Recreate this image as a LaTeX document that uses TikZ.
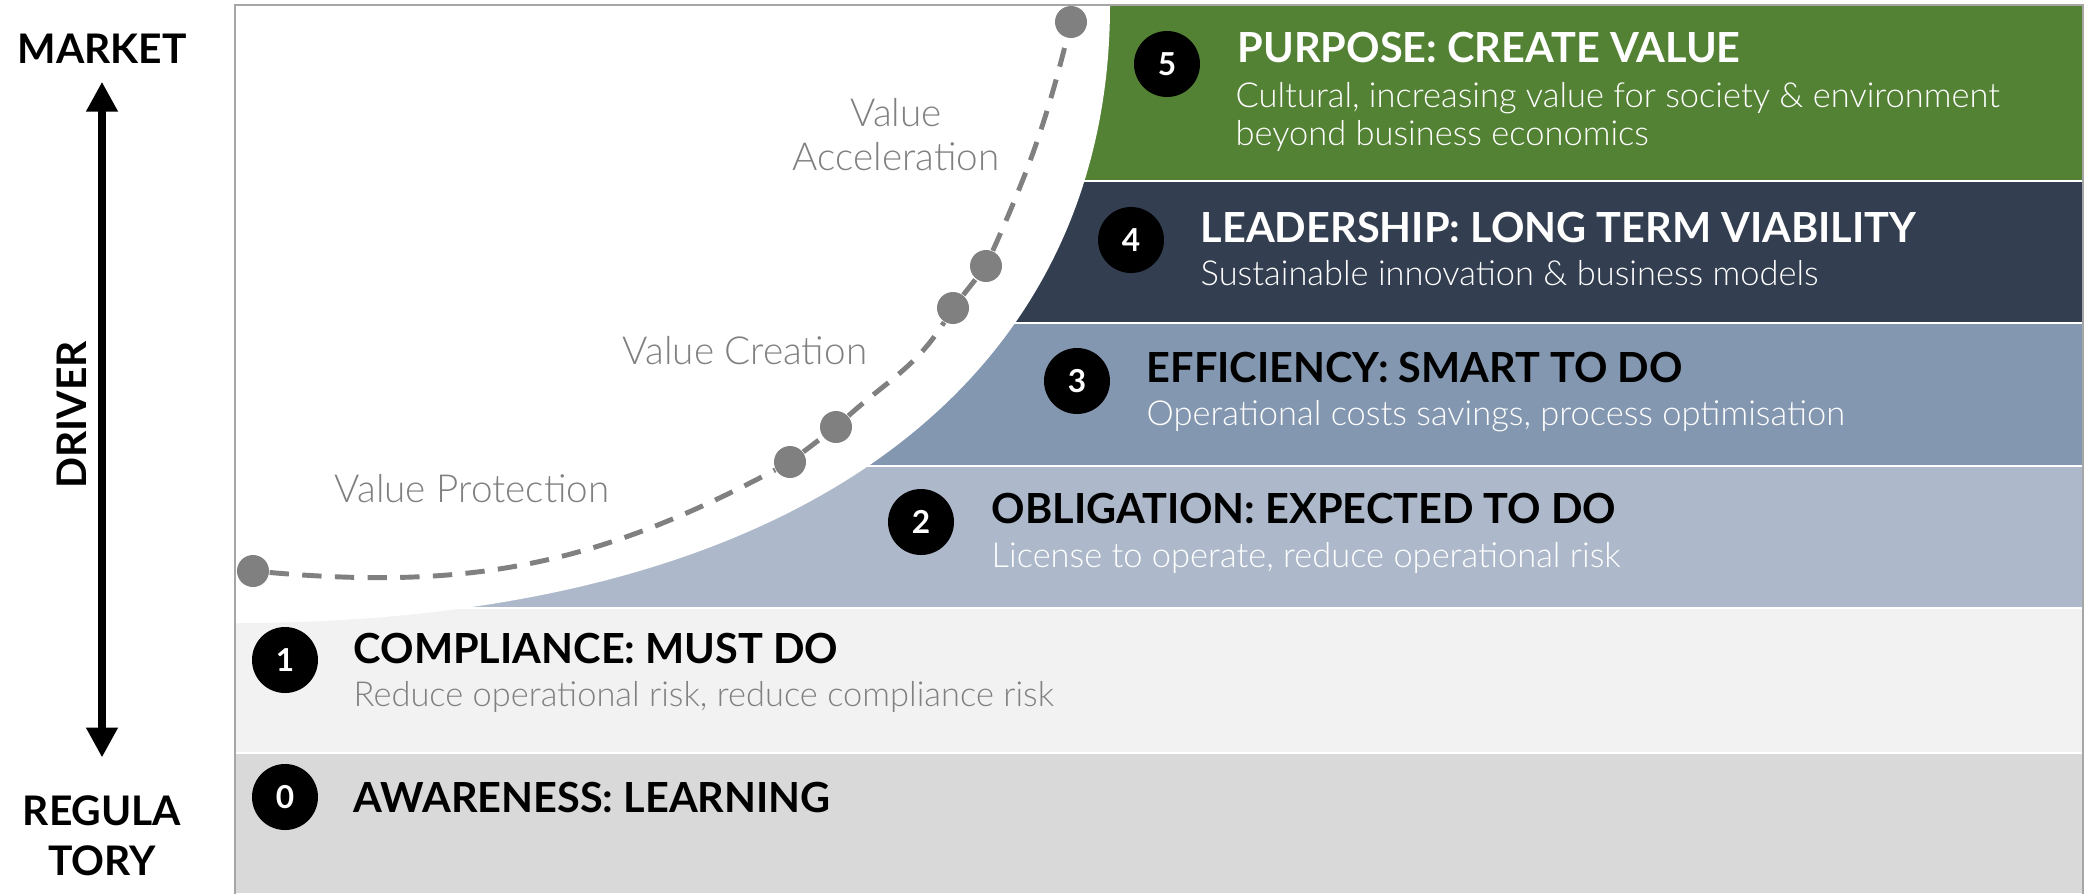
\documentclass[tikz,border=0pt]{standalone}
\usepackage{fontspec}
\setmainfont{Lato}
\newfontfamily\lightfont{Lato Light}
\usetikzlibrary{arrows.meta}

\definecolor{purpgreen}{HTML}{548235}
\definecolor{leadnavy}{HTML}{333F50}
\definecolor{efficblue}{HTML}{8497B0}
\definecolor{obligblue}{HTML}{ADB9CA}
\definecolor{compgray}{HTML}{F2F2F2}
\definecolor{awaregray}{HTML}{D9D9D9}
\definecolor{trailgray}{HTML}{808080}
\definecolor{framegray}{HTML}{A6A6A6}

\tikzset{
  band/.style={draw=white, line width=0.5pt},
  badge/.style={circle, fill=black, text=white, inner sep=0pt, minimum size=0.66cm,
    font=\fontsize{9}{9}\selectfont\bfseries},
  headline/.style={anchor=base west, inner sep=0pt, font=\fontsize{11.8}{11.8}\selectfont\bfseries},
  subline/.style={anchor=base west, inner sep=0pt, font=\lightfont\fontsize{9.8}{11}\selectfont},
  phase/.style={inner sep=0pt, text=trailgray, align=center,
    font=\lightfont\fontsize{11}{12.5}\selectfont},
  stop/.style={circle, fill=trailgray, inner sep=0pt, minimum size=0.32cm},
  trail/.style={draw=trailgray, line width=1.4pt, dash pattern=on 5.5pt off 3.8pt},
  axislabel/.style={inner sep=0pt, font=\fontsize{11.6}{11.6}\selectfont\bfseries},
  axis/.style={line width=0.08cm,
    {Triangle[width=0.3cm,length=0.3cm]}-{Triangle[width=0.3cm,length=0.3cm]}},
}

\begin{document}
\begin{tikzpicture}
  \useasboundingbox (0,0) rectangle (20.86,-8.94);

  % bands
  \path[band, fill=awaregray] (2.35,-7.53) rectangle (20.83,-8.94);
  \path[band, fill=compgray]  (2.35,-6.08) rectangle (20.83,-7.53);
  \path[band, fill=obligblue] (2.35,-4.66) rectangle (20.83,-6.08);
  \path[band, fill=efficblue] (2.35,-3.23) rectangle (20.83,-4.66);
  \path[band, fill=leadnavy]  (2.35,-1.81) rectangle (20.83,-3.23);
  \path[band, fill=purpgreen] (2.35,-0.05) rectangle (20.83,-1.81);

  % white bowl
  \fill[white] (2.35,-0.05) -- (11.10,-0.05)
    .. controls (11.10,-3.80) and (8.00,-6.23) .. (2.35,-6.23) -- cycle;
  \draw[framegray, line width=0.6pt] (2.35,-8.94) -- (2.35,-0.05) -- (20.83,-0.05) -- (20.83,-8.94);

  % levels
  \node[badge] (b5) at (11.67,-0.64) {5};
  \node[headline, text=white] (t5) at (12.37,-0.62) {PURPOSE: CREATE VALUE};
  \node[subline, text=white] (s5) at (12.35,-1.07) {Cultural, increasing value for society \& environment};
  \node[subline, text=white] (s5b) at (12.35,-1.45) {beyond business economics};

  \node[badge] (b4) at (11.31,-2.40) {4};
  \node[headline, text=white] (t4) at (12.00,-2.42) {LEADERSHIP: LONG TERM VIABILITY};
  \node[subline, text=white] (s4) at (12.00,-2.85) {Sustainable innovation \& business models};

  \node[badge] (b3) at (10.77,-3.81) {3};
  \node[headline] (t3) at (11.46,-3.82) {EFFICIENCY: SMART TO DO};
  \node[subline, text=white] (s3) at (11.46,-4.25) {Operational costs savings, process optimisation};

  \node[badge] (b2) at (9.21,-5.22) {2};
  \node[headline] (t2) at (9.91,-5.23) {OBLIGATION: EXPECTED TO DO};
  \node[subline, text=white] (s2) at (9.91,-5.67) {License to operate, reduce operational risk};

  \node[badge] (b1) at (2.85,-6.60) {1};
  \node[headline] (t1) at (3.53,-6.63) {COMPLIANCE: MUST DO};
  \node[subline, text=trailgray] (s1) at (3.53,-7.06) {Reduce operational risk, reduce compliance risk};

  \node[badge] (b0) at (2.85,-7.97) {0};
  \node[headline] (t0) at (3.53,-8.12) {AWARENESS: LEARNING};

  % value path
  \node[phase] (accel) at (8.96,-1.35) {Value\\Acceleration};
  \node[phase] (creat) at (7.45,-3.51) {Value Creation};
  \node[phase] (prot) at (4.72,-4.89) {Value Protection};

  \node[stop] (p0) at (2.53,-5.71) {};
  \node[stop] (p1) at (7.90,-4.62) {};
  \node[stop] (p2) at (8.36,-4.27) {};
  \node[stop] (p3) at (9.53,-3.08) {};
  \node[stop] (p4) at (9.86,-2.66) {};
  \node[stop] (p5) at (10.71,-0.22) {};
  \draw[trail] (p0) to[out=-5,in=208] (p1) -- (p2) to[out=42,in=238] (p3)
    -- (p4) to[out=66,in=256] (p5);

  % driver axis
  \node[axislabel, anchor=base] (market) at (1.02,-0.63) {MARKET};
  \node[axislabel, anchor=base] (regula) at (1.02,-8.25) {REGULA};
  \node[axislabel, anchor=base] (tory) at (1.02,-8.75) {TORY};
  \node[axislabel, rotate=90] (driver) at (0.72,-4.15) {DRIVER};
  \draw[axis, shorten <=0.18cm, shorten >=0.37cm] (market) -- (regula);
\end{tikzpicture}
\end{document}
